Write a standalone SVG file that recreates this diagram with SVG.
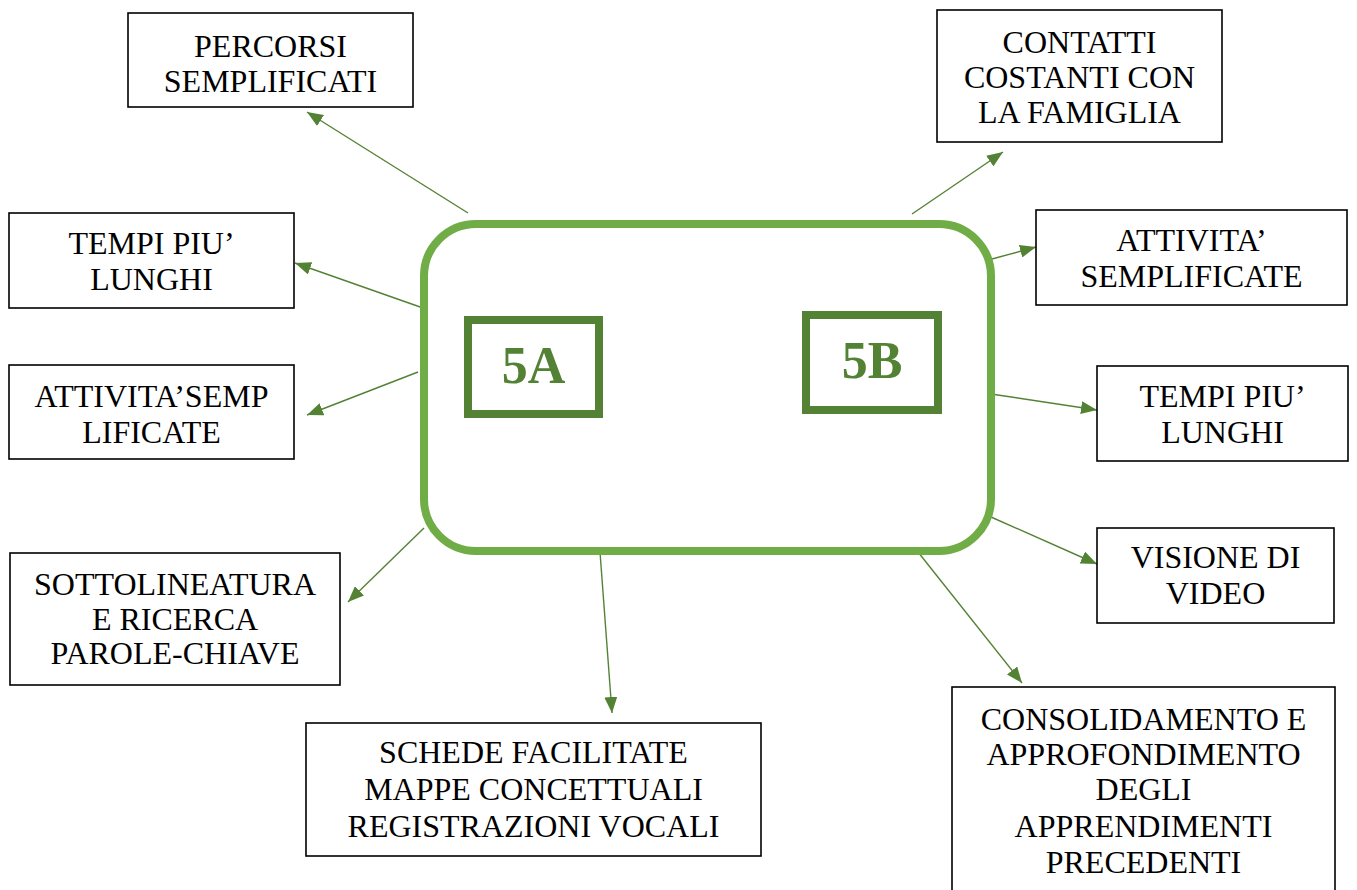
<svg xmlns="http://www.w3.org/2000/svg" width="1357" height="890" viewBox="0 0 1357 890">
<style>
.box{fill:#fff;stroke:#000;stroke-width:1.6}
.t{font-family:"Liberation Serif","Times New Roman",serif;font-size:32px;fill:#000;text-anchor:middle}
.code{font-family:"Liberation Serif","Times New Roman",serif;font-size:52px;font-weight:bold;fill:#548235;text-anchor:middle}
.inner{fill:#fff;stroke:#548235;stroke-width:8}
.con{stroke:#548235;stroke-width:1.4;fill:none;marker-end:url(#ah)}
</style>
<defs>
<marker id="ah" markerUnits="userSpaceOnUse" markerWidth="17" markerHeight="13" refX="16" refY="6.5" orient="auto">
<path d="M0,0 L16,6.5 L0,13 z" fill="#548235"/>
</marker>
</defs>
<rect width="1357" height="890" fill="#fff"/>
<g id="connectors">
<line class="con" x1="468" y1="213" x2="307" y2="112"/>
<line class="con" x1="423" y1="308" x2="295" y2="263"/>
<line class="con" x1="418" y1="372" x2="307" y2="415"/>
<line class="con" x1="424" y1="528" x2="348" y2="602"/>
<line class="con" x1="600" y1="552" x2="612" y2="713"/>
<line class="con" x1="912" y1="214" x2="1003" y2="152"/>
<line class="con" x1="992" y1="259" x2="1036" y2="247"/>
<line class="con" x1="991" y1="394" x2="1097" y2="410"/>
<line class="con" x1="991" y1="517" x2="1097" y2="564"/>
<line class="con" x1="918" y1="552" x2="1022" y2="683"/>
</g>
<g id="center">
<rect x="424" y="224" width="567" height="327" rx="52" ry="52" fill="#fff" stroke="#70AD47" stroke-width="8"/>
</g>
<g id="n5A">
<rect class="inner" x="468" y="320" width="131" height="94"/>
<text class="code" x="533.5" y="383">5A</text>
</g>
<g id="n5B">
<rect class="inner" x="806" y="315" width="132" height="95"/>
<text class="code" x="872" y="378">5B</text>
</g>
<g id="percorsi">
<rect class="box" x="128" y="13" width="285" height="94"/>
<text class="t" x="270.5" y="57">PERCORSI</text>
<text class="t" x="270.5" y="92">SEMPLIFICATI</text>
</g>
<g id="contatti">
<rect class="box" x="937" y="10" width="285" height="132"/>
<text class="t" x="1079.5" y="53">CONTATTI</text>
<text class="t" x="1079.5" y="88">COSTANTI CON</text>
<text class="t" x="1079.5" y="123">LA FAMIGLIA</text>
</g>
<g id="tempiL">
<rect class="box" x="9" y="213" width="285" height="95"/>
<text class="t" x="151.5" y="254">TEMPI PIU’</text>
<text class="t" x="151.5" y="290">LUNGHI</text>
</g>
<g id="attivitaR">
<rect class="box" x="1036" y="210" width="311" height="95"/>
<text class="t" x="1191.5" y="251">ATTIVITA’</text>
<text class="t" x="1191.5" y="287">SEMPLIFICATE</text>
</g>
<g id="attivitaL">
<rect class="box" x="9" y="365" width="285" height="94"/>
<text class="t" x="151.5" y="407">ATTIVITA’SEMP</text>
<text class="t" x="151.5" y="443">LIFICATE</text>
</g>
<g id="tempiR">
<rect class="box" x="1097" y="366" width="251" height="95"/>
<text class="t" x="1222.5" y="407">TEMPI PIU’</text>
<text class="t" x="1222.5" y="443">LUNGHI</text>
</g>
<g id="sottolineatura">
<rect class="box" x="10" y="553" width="330" height="132"/>
<text class="t" x="175" y="595">SOTTOLINEATURA</text>
<text class="t" x="175" y="630">E RICERCA</text>
<text class="t" x="175" y="664">PAROLE-CHIAVE</text>
</g>
<g id="visione">
<rect class="box" x="1097" y="528" width="237" height="95"/>
<text class="t" x="1215.5" y="568">VISIONE DI</text>
<text class="t" x="1215.5" y="604">VIDEO</text>
</g>
<g id="schede">
<rect class="box" x="306" y="723" width="455" height="133"/>
<text class="t" x="533.5" y="763">SCHEDE FACILITATE</text>
<text class="t" x="533.5" y="800">MAPPE CONCETTUALI</text>
<text class="t" x="533.5" y="837">REGISTRAZIONI VOCALI</text>
</g>
<g id="consolidamento">
<rect class="box" x="952" y="687" width="383" height="210"/>
<text class="t" x="1143.5" y="730">CONSOLIDAMENTO E</text>
<text class="t" x="1143.5" y="765">APPROFONDIMENTO</text>
<text class="t" x="1143.5" y="800">DEGLI</text>
<text class="t" x="1143.5" y="837">APPRENDIMENTI</text>
<text class="t" x="1143.5" y="873">PRECEDENTI</text>
</g>
</svg>
